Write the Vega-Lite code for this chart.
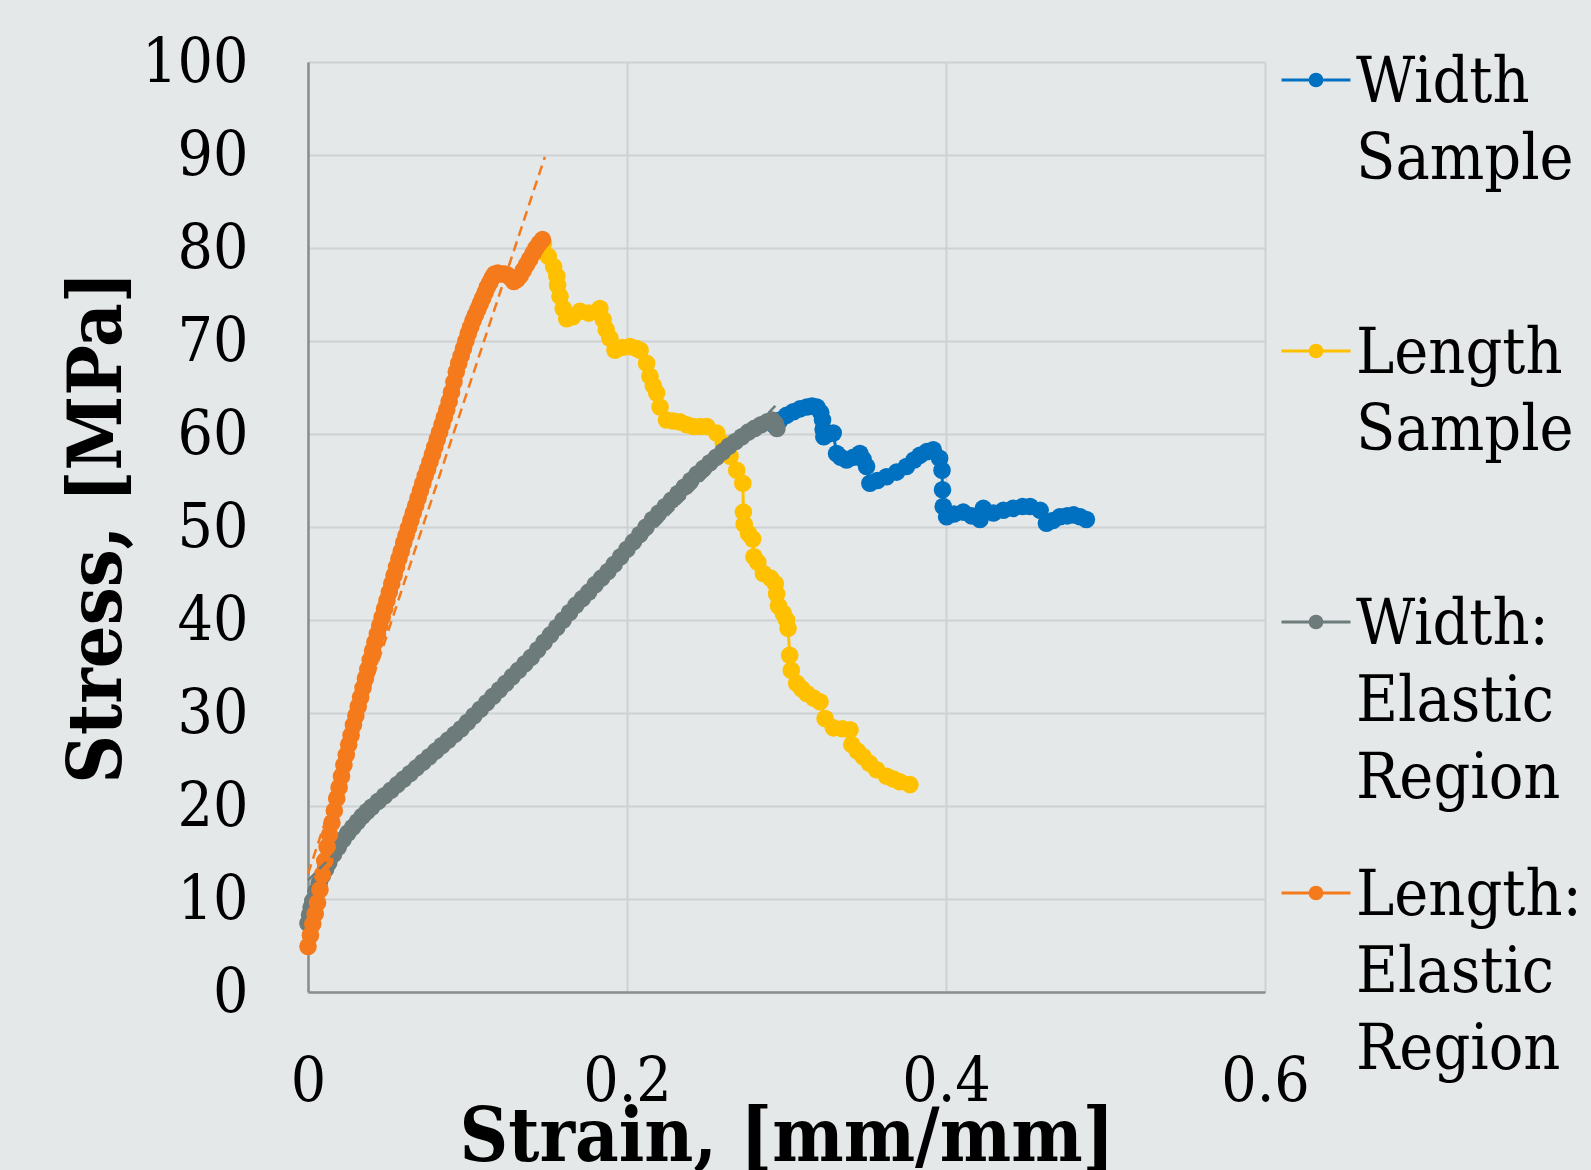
{
  "$schema": "https://vega.github.io/schema/vega-lite/v6.json",
  "width": 957,
  "height": 930,
  "autosize": {"type": "none"},
  "padding": {"left": 308, "top": 62, "right": 326, "bottom": 178},
  "background": "#e4e8e9",
  "config": {
    "view": {"stroke": null},
    "axis": {
      "labelFont": "DejaVu Serif Condensed, DejaVu Serif, serif",
      "labelFontSize": 62,
      "labelColor": "#000000",
      "titleFont": "DejaVu Serif Condensed, DejaVu Serif, serif",
      "titleFontSize": 75,
      "titleFontWeight": "bold",
      "titleColor": "#000000",
      "ticks": false,
      "tickSize": 0,
      "gridColor": "#cdd1d3",
      "gridWidth": 2,
      "domainColor": "#8b8d8d",
      "domainWidth": 2.5,
      "labelFlush": false,
      "labelOverlap": false,
      "labelBound": false
    }
  },
  "datasets": {
    "main": [
      {"series":"Width Sample","strain":0.2920,"stress":61.0},
      {"series":"Width Sample","strain":0.2960,"stress":61.5},
      {"series":"Width Sample","strain":0.3000,"stress":62.0},
      {"series":"Width Sample","strain":0.3043,"stress":62.4},
      {"series":"Width Sample","strain":0.3085,"stress":62.7},
      {"series":"Width Sample","strain":0.3127,"stress":62.9},
      {"series":"Width Sample","strain":0.3160,"stress":63.0},
      {"series":"Width Sample","strain":0.3190,"stress":62.9},
      {"series":"Width Sample","strain":0.3215,"stress":62.3},
      {"series":"Width Sample","strain":0.3226,"stress":61.5},
      {"series":"Width Sample","strain":0.3230,"stress":60.5},
      {"series":"Width Sample","strain":0.3234,"stress":59.7},
      {"series":"Width Sample","strain":0.3260,"stress":60.0},
      {"series":"Width Sample","strain":0.3293,"stress":60.1},
      {"series":"Width Sample","strain":0.3314,"stress":57.9},
      {"series":"Width Sample","strain":0.3340,"stress":57.5},
      {"series":"Width Sample","strain":0.3377,"stress":57.2},
      {"series":"Width Sample","strain":0.3420,"stress":57.5},
      {"series":"Width Sample","strain":0.3460,"stress":57.9},
      {"series":"Width Sample","strain":0.3480,"stress":57.3},
      {"series":"Width Sample","strain":0.3502,"stress":56.5},
      {"series":"Width Sample","strain":0.3523,"stress":54.7},
      {"series":"Width Sample","strain":0.3570,"stress":55.0},
      {"series":"Width Sample","strain":0.3627,"stress":55.4},
      {"series":"Width Sample","strain":0.3690,"stress":55.9},
      {"series":"Width Sample","strain":0.3752,"stress":56.5},
      {"series":"Width Sample","strain":0.3800,"stress":57.2},
      {"series":"Width Sample","strain":0.3836,"stress":57.7},
      {"series":"Width Sample","strain":0.3880,"stress":58.1},
      {"series":"Width Sample","strain":0.3920,"stress":58.3},
      {"series":"Width Sample","strain":0.3960,"stress":57.4},
      {"series":"Width Sample","strain":0.3975,"stress":56.1},
      {"series":"Width Sample","strain":0.3978,"stress":54.0},
      {"series":"Width Sample","strain":0.3983,"stress":52.2},
      {"series":"Width Sample","strain":0.4004,"stress":51.1},
      {"series":"Width Sample","strain":0.4050,"stress":51.4},
      {"series":"Width Sample","strain":0.4108,"stress":51.6},
      {"series":"Width Sample","strain":0.4160,"stress":51.2},
      {"series":"Width Sample","strain":0.4213,"stress":50.8},
      {"series":"Width Sample","strain":0.4234,"stress":52.0},
      {"series":"Width Sample","strain":0.4297,"stress":51.5},
      {"series":"Width Sample","strain":0.4360,"stress":51.8},
      {"series":"Width Sample","strain":0.4420,"stress":52.0},
      {"series":"Width Sample","strain":0.4480,"stress":52.2},
      {"series":"Width Sample","strain":0.4527,"stress":52.2},
      {"series":"Width Sample","strain":0.4590,"stress":51.8},
      {"series":"Width Sample","strain":0.4630,"stress":50.4},
      {"series":"Width Sample","strain":0.4670,"stress":50.7},
      {"series":"Width Sample","strain":0.4715,"stress":51.1},
      {"series":"Width Sample","strain":0.4760,"stress":51.2},
      {"series":"Width Sample","strain":0.4800,"stress":51.3},
      {"series":"Width Sample","strain":0.4840,"stress":51.1},
      {"series":"Width Sample","strain":0.4880,"stress":50.8},
      {"series":"Length Sample","strain":0.1476,"stress":80.5},
      {"series":"Length Sample","strain":0.1507,"stress":79.1},
      {"series":"Length Sample","strain":0.1540,"stress":78.0},
      {"series":"Length Sample","strain":0.1560,"stress":77.0},
      {"series":"Length Sample","strain":0.1565,"stress":76.0},
      {"series":"Length Sample","strain":0.1580,"stress":74.8},
      {"series":"Length Sample","strain":0.1600,"stress":73.5},
      {"series":"Length Sample","strain":0.1622,"stress":72.4},
      {"series":"Length Sample","strain":0.1660,"stress":72.6},
      {"series":"Length Sample","strain":0.1705,"stress":73.2},
      {"series":"Length Sample","strain":0.1760,"stress":73.0},
      {"series":"Length Sample","strain":0.1830,"stress":73.5},
      {"series":"Length Sample","strain":0.1851,"stress":72.3},
      {"series":"Length Sample","strain":0.1870,"stress":71.2},
      {"series":"Length Sample","strain":0.1893,"stress":70.3},
      {"series":"Length Sample","strain":0.1925,"stress":69.0},
      {"series":"Length Sample","strain":0.1970,"stress":69.3},
      {"series":"Length Sample","strain":0.2019,"stress":69.4},
      {"series":"Length Sample","strain":0.2060,"stress":69.2},
      {"series":"Length Sample","strain":0.2082,"stress":69.0},
      {"series":"Length Sample","strain":0.2123,"stress":67.6},
      {"series":"Length Sample","strain":0.2144,"stress":66.2},
      {"series":"Length Sample","strain":0.2165,"stress":65.2},
      {"series":"Length Sample","strain":0.2186,"stress":64.4},
      {"series":"Length Sample","strain":0.2207,"stress":62.9},
      {"series":"Length Sample","strain":0.2248,"stress":61.5},
      {"series":"Length Sample","strain":0.2290,"stress":61.4},
      {"series":"Length Sample","strain":0.2332,"stress":61.3},
      {"series":"Length Sample","strain":0.2375,"stress":61.0},
      {"series":"Length Sample","strain":0.2416,"stress":60.8},
      {"series":"Length Sample","strain":0.2460,"stress":60.8},
      {"series":"Length Sample","strain":0.2500,"stress":60.8},
      {"series":"Length Sample","strain":0.2562,"stress":60.1},
      {"series":"Length Sample","strain":0.2604,"stress":59.0},
      {"series":"Length Sample","strain":0.2646,"stress":57.6},
      {"series":"Length Sample","strain":0.2688,"stress":56.1},
      {"series":"Length Sample","strain":0.2726,"stress":54.7},
      {"series":"Length Sample","strain":0.2730,"stress":51.6},
      {"series":"Length Sample","strain":0.2735,"stress":50.3},
      {"series":"Length Sample","strain":0.2762,"stress":49.3},
      {"series":"Length Sample","strain":0.2788,"stress":48.7},
      {"series":"Length Sample","strain":0.2796,"stress":46.8},
      {"series":"Length Sample","strain":0.2820,"stress":46.2},
      {"series":"Length Sample","strain":0.2855,"stress":45.0},
      {"series":"Length Sample","strain":0.2900,"stress":44.5},
      {"series":"Length Sample","strain":0.2930,"stress":43.9},
      {"series":"Length Sample","strain":0.2938,"stress":42.8},
      {"series":"Length Sample","strain":0.2950,"stress":41.5},
      {"series":"Length Sample","strain":0.2980,"stress":40.7},
      {"series":"Length Sample","strain":0.3000,"stress":40.0},
      {"series":"Length Sample","strain":0.3010,"stress":39.1},
      {"series":"Length Sample","strain":0.3020,"stress":36.2},
      {"series":"Length Sample","strain":0.3030,"stress":34.6},
      {"series":"Length Sample","strain":0.3064,"stress":33.2},
      {"series":"Length Sample","strain":0.3095,"stress":32.6},
      {"series":"Length Sample","strain":0.3127,"stress":32.1},
      {"series":"Length Sample","strain":0.3170,"stress":31.6},
      {"series":"Length Sample","strain":0.3210,"stress":31.2},
      {"series":"Length Sample","strain":0.3242,"stress":29.4},
      {"series":"Length Sample","strain":0.3294,"stress":28.4},
      {"series":"Length Sample","strain":0.3350,"stress":28.3},
      {"series":"Length Sample","strain":0.3398,"stress":28.2},
      {"series":"Length Sample","strain":0.3409,"stress":26.6},
      {"series":"Length Sample","strain":0.3445,"stress":25.9},
      {"series":"Length Sample","strain":0.3481,"stress":25.3},
      {"series":"Length Sample","strain":0.3520,"stress":24.6},
      {"series":"Length Sample","strain":0.3565,"stress":23.9},
      {"series":"Length Sample","strain":0.3628,"stress":23.2},
      {"series":"Length Sample","strain":0.3670,"stress":22.9},
      {"series":"Length Sample","strain":0.3710,"stress":22.6},
      {"series":"Length Sample","strain":0.3774,"stress":22.3},
      {"series":"Width: Elastic Region","strain":0.000,"stress":7.4},
      {"series":"Width: Elastic Region","strain":0.001,"stress":8.3},
      {"series":"Width: Elastic Region","strain":0.002,"stress":9.1},
      {"series":"Width: Elastic Region","strain":0.003,"stress":9.8},
      {"series":"Width: Elastic Region","strain":0.005,"stress":10.8},
      {"series":"Width: Elastic Region","strain":0.007,"stress":11.7},
      {"series":"Width: Elastic Region","strain":0.009,"stress":12.5},
      {"series":"Width: Elastic Region","strain":0.011,"stress":13.2},
      {"series":"Width: Elastic Region","strain":0.013,"stress":13.9},
      {"series":"Width: Elastic Region","strain":0.016,"stress":14.8},
      {"series":"Width: Elastic Region","strain":0.019,"stress":15.6},
      {"series":"Width: Elastic Region","strain":0.022,"stress":16.4},
      {"series":"Width: Elastic Region","strain":0.025,"stress":17.1},
      {"series":"Width: Elastic Region","strain":0.028,"stress":17.7},
      {"series":"Width: Elastic Region","strain":0.031,"stress":18.3},
      {"series":"Width: Elastic Region","strain":0.034,"stress":18.9},
      {"series":"Width: Elastic Region","strain":0.037,"stress":19.4},
      {"series":"Width: Elastic Region","strain":0.040,"stress":19.9},
      {"series":"Width: Elastic Region","strain":0.044,"stress":20.5},
      {"series":"Width: Elastic Region","strain":0.048,"stress":21.1},
      {"series":"Width: Elastic Region","strain":0.052,"stress":21.7},
      {"series":"Width: Elastic Region","strain":0.056,"stress":22.3},
      {"series":"Width: Elastic Region","strain":0.060,"stress":22.9},
      {"series":"Width: Elastic Region","strain":0.064,"stress":23.5},
      {"series":"Width: Elastic Region","strain":0.068,"stress":24.1},
      {"series":"Width: Elastic Region","strain":0.072,"stress":24.7},
      {"series":"Width: Elastic Region","strain":0.076,"stress":25.3},
      {"series":"Width: Elastic Region","strain":0.080,"stress":25.9},
      {"series":"Width: Elastic Region","strain":0.084,"stress":26.5},
      {"series":"Width: Elastic Region","strain":0.088,"stress":27.1},
      {"series":"Width: Elastic Region","strain":0.092,"stress":27.7},
      {"series":"Width: Elastic Region","strain":0.096,"stress":28.3},
      {"series":"Width: Elastic Region","strain":0.100,"stress":29.0},
      {"series":"Width: Elastic Region","strain":0.104,"stress":29.7},
      {"series":"Width: Elastic Region","strain":0.108,"stress":30.4},
      {"series":"Width: Elastic Region","strain":0.112,"stress":31.1},
      {"series":"Width: Elastic Region","strain":0.116,"stress":31.8},
      {"series":"Width: Elastic Region","strain":0.120,"stress":32.5},
      {"series":"Width: Elastic Region","strain":0.124,"stress":33.2},
      {"series":"Width: Elastic Region","strain":0.128,"stress":33.9},
      {"series":"Width: Elastic Region","strain":0.132,"stress":34.6},
      {"series":"Width: Elastic Region","strain":0.136,"stress":35.3},
      {"series":"Width: Elastic Region","strain":0.140,"stress":36.0},
      {"series":"Width: Elastic Region","strain":0.144,"stress":36.8},
      {"series":"Width: Elastic Region","strain":0.148,"stress":37.6},
      {"series":"Width: Elastic Region","strain":0.152,"stress":38.4},
      {"series":"Width: Elastic Region","strain":0.156,"stress":39.2},
      {"series":"Width: Elastic Region","strain":0.160,"stress":40.0},
      {"series":"Width: Elastic Region","strain":0.164,"stress":40.8},
      {"series":"Width: Elastic Region","strain":0.168,"stress":41.6},
      {"series":"Width: Elastic Region","strain":0.172,"stress":42.3},
      {"series":"Width: Elastic Region","strain":0.176,"stress":43.0},
      {"series":"Width: Elastic Region","strain":0.180,"stress":43.8},
      {"series":"Width: Elastic Region","strain":0.184,"stress":44.5},
      {"series":"Width: Elastic Region","strain":0.188,"stress":45.2},
      {"series":"Width: Elastic Region","strain":0.192,"stress":46.0},
      {"series":"Width: Elastic Region","strain":0.196,"stress":46.8},
      {"series":"Width: Elastic Region","strain":0.200,"stress":47.6},
      {"series":"Width: Elastic Region","strain":0.204,"stress":48.4},
      {"series":"Width: Elastic Region","strain":0.208,"stress":49.2},
      {"series":"Width: Elastic Region","strain":0.212,"stress":50.0},
      {"series":"Width: Elastic Region","strain":0.216,"stress":50.8},
      {"series":"Width: Elastic Region","strain":0.220,"stress":51.5},
      {"series":"Width: Elastic Region","strain":0.224,"stress":52.2},
      {"series":"Width: Elastic Region","strain":0.228,"stress":52.9},
      {"series":"Width: Elastic Region","strain":0.232,"stress":53.6},
      {"series":"Width: Elastic Region","strain":0.236,"stress":54.3},
      {"series":"Width: Elastic Region","strain":0.240,"stress":55.0},
      {"series":"Width: Elastic Region","strain":0.244,"stress":55.7},
      {"series":"Width: Elastic Region","strain":0.248,"stress":56.3},
      {"series":"Width: Elastic Region","strain":0.252,"stress":56.9},
      {"series":"Width: Elastic Region","strain":0.256,"stress":57.5},
      {"series":"Width: Elastic Region","strain":0.260,"stress":58.1},
      {"series":"Width: Elastic Region","strain":0.264,"stress":58.7},
      {"series":"Width: Elastic Region","strain":0.268,"stress":59.2},
      {"series":"Width: Elastic Region","strain":0.272,"stress":59.7},
      {"series":"Width: Elastic Region","strain":0.276,"stress":60.2},
      {"series":"Width: Elastic Region","strain":0.280,"stress":60.6},
      {"series":"Width: Elastic Region","strain":0.284,"stress":61.0},
      {"series":"Width: Elastic Region","strain":0.288,"stress":61.3},
      {"series":"Width: Elastic Region","strain":0.291,"stress":61.5},
      {"series":"Width: Elastic Region","strain":0.293,"stress":61.1},
      {"series":"Width: Elastic Region","strain":0.294,"stress":60.6},
      {"series":"Length: Elastic Region","strain":0.0000,"stress":4.9},
      {"series":"Length: Elastic Region","strain":0.0015,"stress":6.1},
      {"series":"Length: Elastic Region","strain":0.0030,"stress":7.3},
      {"series":"Length: Elastic Region","strain":0.0045,"stress":8.4},
      {"series":"Length: Elastic Region","strain":0.0060,"stress":9.6},
      {"series":"Length: Elastic Region","strain":0.0075,"stress":11.0},
      {"series":"Length: Elastic Region","strain":0.0090,"stress":12.6},
      {"series":"Length: Elastic Region","strain":0.0105,"stress":14.1},
      {"series":"Length: Elastic Region","strain":0.0120,"stress":15.6},
      {"series":"Length: Elastic Region","strain":0.0135,"stress":16.9},
      {"series":"Length: Elastic Region","strain":0.0150,"stress":18.2},
      {"series":"Length: Elastic Region","strain":0.0165,"stress":19.5},
      {"series":"Length: Elastic Region","strain":0.0180,"stress":20.8},
      {"series":"Length: Elastic Region","strain":0.0195,"stress":22.0},
      {"series":"Length: Elastic Region","strain":0.0210,"stress":23.2},
      {"series":"Length: Elastic Region","strain":0.0225,"stress":24.4},
      {"series":"Length: Elastic Region","strain":0.0240,"stress":25.5},
      {"series":"Length: Elastic Region","strain":0.0255,"stress":26.6},
      {"series":"Length: Elastic Region","strain":0.0270,"stress":27.6},
      {"series":"Length: Elastic Region","strain":0.0285,"stress":28.7},
      {"series":"Length: Elastic Region","strain":0.0300,"stress":29.7},
      {"series":"Length: Elastic Region","strain":0.0315,"stress":30.7},
      {"series":"Length: Elastic Region","strain":0.0330,"stress":31.7},
      {"series":"Length: Elastic Region","strain":0.0345,"stress":32.7},
      {"series":"Length: Elastic Region","strain":0.0360,"stress":33.7},
      {"series":"Length: Elastic Region","strain":0.0375,"stress":34.7},
      {"series":"Length: Elastic Region","strain":0.0390,"stress":35.7},
      {"series":"Length: Elastic Region","strain":0.0405,"stress":36.7},
      {"series":"Length: Elastic Region","strain":0.0420,"stress":37.6},
      {"series":"Length: Elastic Region","strain":0.0435,"stress":38.5},
      {"series":"Length: Elastic Region","strain":0.0450,"stress":39.4},
      {"series":"Length: Elastic Region","strain":0.0465,"stress":40.3},
      {"series":"Length: Elastic Region","strain":0.0480,"stress":41.2},
      {"series":"Length: Elastic Region","strain":0.0495,"stress":42.1},
      {"series":"Length: Elastic Region","strain":0.0510,"stress":43.0},
      {"series":"Length: Elastic Region","strain":0.0525,"stress":43.9},
      {"series":"Length: Elastic Region","strain":0.0540,"stress":44.8},
      {"series":"Length: Elastic Region","strain":0.0555,"stress":45.7},
      {"series":"Length: Elastic Region","strain":0.0570,"stress":46.6},
      {"series":"Length: Elastic Region","strain":0.0585,"stress":47.4},
      {"series":"Length: Elastic Region","strain":0.0600,"stress":48.3},
      {"series":"Length: Elastic Region","strain":0.0615,"stress":49.1},
      {"series":"Length: Elastic Region","strain":0.0630,"stress":49.9},
      {"series":"Length: Elastic Region","strain":0.0645,"stress":50.7},
      {"series":"Length: Elastic Region","strain":0.0660,"stress":51.5},
      {"series":"Length: Elastic Region","strain":0.0675,"stress":52.3},
      {"series":"Length: Elastic Region","strain":0.0690,"stress":53.1},
      {"series":"Length: Elastic Region","strain":0.0705,"stress":53.9},
      {"series":"Length: Elastic Region","strain":0.0720,"stress":54.7},
      {"series":"Length: Elastic Region","strain":0.0735,"stress":55.5},
      {"series":"Length: Elastic Region","strain":0.0750,"stress":56.2},
      {"series":"Length: Elastic Region","strain":0.0765,"stress":57.0},
      {"series":"Length: Elastic Region","strain":0.0780,"stress":57.8},
      {"series":"Length: Elastic Region","strain":0.0795,"stress":58.6},
      {"series":"Length: Elastic Region","strain":0.0810,"stress":59.4},
      {"series":"Length: Elastic Region","strain":0.0825,"stress":60.2},
      {"series":"Length: Elastic Region","strain":0.0840,"stress":61.0},
      {"series":"Length: Elastic Region","strain":0.0855,"stress":61.8},
      {"series":"Length: Elastic Region","strain":0.0870,"stress":62.6},
      {"series":"Length: Elastic Region","strain":0.0885,"stress":63.5},
      {"series":"Length: Elastic Region","strain":0.0900,"stress":64.5},
      {"series":"Length: Elastic Region","strain":0.0915,"stress":65.6},
      {"series":"Length: Elastic Region","strain":0.0930,"stress":66.7},
      {"series":"Length: Elastic Region","strain":0.0945,"stress":67.6},
      {"series":"Length: Elastic Region","strain":0.0960,"stress":68.4},
      {"series":"Length: Elastic Region","strain":0.0975,"stress":69.2},
      {"series":"Length: Elastic Region","strain":0.0990,"stress":70.0},
      {"series":"Length: Elastic Region","strain":0.1005,"stress":70.8},
      {"series":"Length: Elastic Region","strain":0.1020,"stress":71.5},
      {"series":"Length: Elastic Region","strain":0.1035,"stress":72.2},
      {"series":"Length: Elastic Region","strain":0.1050,"stress":72.8},
      {"series":"Length: Elastic Region","strain":0.1065,"stress":73.4},
      {"series":"Length: Elastic Region","strain":0.1080,"stress":74.0},
      {"series":"Length: Elastic Region","strain":0.1095,"stress":74.6},
      {"series":"Length: Elastic Region","strain":0.1110,"stress":75.2},
      {"series":"Length: Elastic Region","strain":0.1125,"stress":75.8},
      {"series":"Length: Elastic Region","strain":0.1140,"stress":76.3},
      {"series":"Length: Elastic Region","strain":0.1155,"stress":76.8},
      {"series":"Length: Elastic Region","strain":0.1170,"stress":77.2},
      {"series":"Length: Elastic Region","strain":0.1190,"stress":77.3},
      {"series":"Length: Elastic Region","strain":0.1210,"stress":77.2},
      {"series":"Length: Elastic Region","strain":0.1230,"stress":77.2},
      {"series":"Length: Elastic Region","strain":0.1250,"stress":77.1},
      {"series":"Length: Elastic Region","strain":0.1270,"stress":76.8},
      {"series":"Length: Elastic Region","strain":0.1290,"stress":76.4},
      {"series":"Length: Elastic Region","strain":0.1310,"stress":76.6},
      {"series":"Length: Elastic Region","strain":0.1330,"stress":77.0},
      {"series":"Length: Elastic Region","strain":0.1350,"stress":77.6},
      {"series":"Length: Elastic Region","strain":0.1370,"stress":78.2},
      {"series":"Length: Elastic Region","strain":0.1390,"stress":78.8},
      {"series":"Length: Elastic Region","strain":0.1410,"stress":79.4},
      {"series":"Length: Elastic Region","strain":0.1430,"stress":80.0},
      {"series":"Length: Elastic Region","strain":0.1450,"stress":80.5},
      {"series":"Length: Elastic Region","strain":0.1470,"stress":80.9}
    ],
    "trend": [
      {"series":"Width: Elastic Region","strain":0.0,"stress":12.0},
      {"series":"Width: Elastic Region","strain":0.294,"stress":63.2},
      {"series":"Length: Elastic Region","strain":0.0,"stress":12.7},
      {"series":"Length: Elastic Region","strain":0.1485,"stress":89.8}
    ]
  },
  "encoding": {
    "x": {
      "field": "strain",
      "type": "quantitative",
      "scale": {"domain": [0, 0.6], "nice": false},
      "axis": {
        "values": [0, 0.2, 0.4, 0.6],
        "format": "~g",
        "labelPadding": 59,
        "title": "Strain, [mm/mm]",
        "titleBaseline": "alphabetic",
        "titleY": 168,
        "titleX": 478.5,
        "titleAlign": "center"
      }
    },
    "y": {
      "field": "stress",
      "type": "quantitative",
      "scale": {"domain": [0, 100], "nice": false},
      "axis": {
        "values": [0, 10, 20, 30, 40, 50, 60, 70, 80, 90, 100],
        "labelPadding": 60,
        "title": "Stress, [MPa]",
        "titleBaseline": "alphabetic",
        "titleAlign": "center",
        "titleX": -188,
        "titleY": 465
      }
    }
  },
  "layer": [
    {
      "data": {"name": "main"},
      "mark": {"type": "line", "strokeWidth": 3},
      "encoding": {
        "color": {
          "field": "series",
          "type": "nominal",
          "scale": {
            "domain": ["Width Sample", "Length Sample", "Width: Elastic Region", "Length: Elastic Region"],
            "range": ["#0070c0", "#ffc000", "#6d7b7b", "#f47a1c"]
          },
          "legend": {
            "title": null,
            "orient": "none",
            "legendX": 972,
            "legendY": -18,
            "padding": 0,
            "symbolType": "M-1,0L1,0M-0.17,0A0.17,0.17,0,1,1,0.17,0A0.17,0.17,0,1,1,-0.17,0Z",
            "symbolSize": 4761,
            "symbolStrokeWidth": 3,
            "labelFont": "DejaVu Serif Condensed, DejaVu Serif, serif",
            "labelFontSize": 64,
            "labelColor": "#000000",
            "labelLimit": 600,
            "labelOffset": 4,
            "labelBaseline": "alphabetic",
            "rowPadding": 46,
            "labelExpr": "split(datum.label + (indexof(datum.label, ':') < 0 ? ' ' : ''), ' ')",
            "encoding": {
              "labels": {"lineHeight": {"value": 77}, "dy": {"value": 22}},
              "symbols": {
                "fill": {"value": {"expr": "scale('color', datum.value)"}},
                "stroke": {"value": {"expr": "scale('color', datum.value)"}},
                "opacity": {"value": 1}
              }
            }
          }
        }
      }
    },
    {
      "data": {"name": "main"},
      "mark": {"type": "point", "filled": true, "size": 310, "opacity": 1},
      "encoding": {
        "color": {"field": "series", "type": "nominal", "legend": null}
      }
    },
    {
      "data": {"name": "trend"},
      "mark": {"type": "line", "strokeWidth": 2.5, "strokeDash": [10, 6]},
      "encoding": {
        "color": {"field": "series", "type": "nominal", "legend": null}
      }
    }
  ]
}
